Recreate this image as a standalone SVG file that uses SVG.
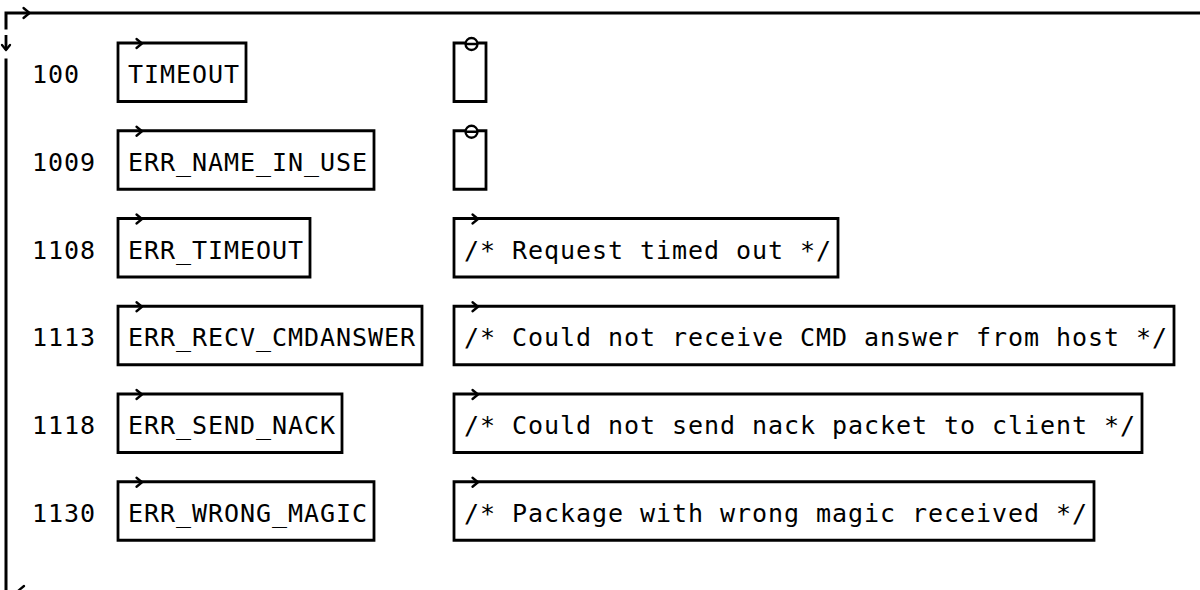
<svg xmlns="http://www.w3.org/2000/svg" width="1200" height="590" viewBox="0 0 1200 590">
<style>
  .ln { fill: none; stroke: #000; stroke-width: 2.8; stroke-linejoin: miter; stroke-linecap: butt; }
  .frame { fill: none; stroke: #000; stroke-width: 3; }
  .ah { fill: none; stroke: #000; stroke-width: 2.3; stroke-linecap: round; stroke-linejoin: round; }
  .t { font-family: "DejaVu Sans Mono", "Liberation Mono", monospace; font-size: 25px; letter-spacing: 0.95px; fill: #000; }
</style>
<rect width="1200" height="590" fill="#fff"/>
<g id="connectors">
  <path class="frame" d="M6,29.5 V13 H1200"/>
  <path class="ah" d="M23.5,8 L29.5,13 L23.5,18"/>
  <path class="ln" d="M6,35 V50"/>
  <path class="ah" d="M2,45 L6,50 L10,45"/>
  <path class="frame" d="M6,58.5 V590"/>
  <path class="ah" d="M24,586 L18,591"/>
</g>
<g id="node-100" transform="translate(0,0)">
  <text class="t" x="32" y="83">100</text>
  <path class="ln" d="M118,101.5 V43 H246 V101.5 Z"/>
  <path class="ah" d="M136.5,39 L142,43.5 L136.5,48"/>
  <text class="t" x="128" y="83">TIMEOUT</text>
  <path class="ln" d="M454,101.5 V43 H486 V101.5 Z"/>
  <circle cx="471.5" cy="44" r="6" fill="#fff" stroke="#000" stroke-width="2.3"/>
  <path class="ah" d="M466,44 H477"/>
</g>
<g id="node-1009" transform="translate(0,87.75)">
  <text class="t" x="32" y="83">1009</text>
  <path class="ln" d="M118,101.5 V43 H374 V101.5 Z"/>
  <path class="ah" d="M136.5,39 L142,43.5 L136.5,48"/>
  <text class="t" x="128" y="83">ERR_NAME_IN_USE</text>
  <path class="ln" d="M454,101.5 V43 H486 V101.5 Z"/>
  <circle cx="471.5" cy="44" r="6" fill="#fff" stroke="#000" stroke-width="2.3"/>
  <path class="ah" d="M466,44 H477"/>
</g>
<g id="node-1108" transform="translate(0,175.5)">
  <text class="t" x="32" y="83">1108</text>
  <path class="ln" d="M118,101.5 V43 H310 V101.5 Z"/>
  <path class="ah" d="M136.5,39 L142,43.5 L136.5,48"/>
  <text class="t" x="128" y="83">ERR_TIMEOUT</text>
  <path class="ln" d="M454,101.5 V43 H838 V101.5 Z"/>
  <path class="ah" d="M472.5,39 L478,43.5 L472.5,48"/>
  <text class="t" x="464" y="83" xml:space="preserve">/* Request timed out */</text>
</g>
<g id="node-1113" transform="translate(0,263.25)">
  <text class="t" x="32" y="83">1113</text>
  <path class="ln" d="M118,101.5 V43 H422 V101.5 Z"/>
  <path class="ah" d="M136.5,39 L142,43.5 L136.5,48"/>
  <text class="t" x="128" y="83">ERR_RECV_CMDANSWER</text>
  <path class="ln" d="M454,101.5 V43 H1174 V101.5 Z"/>
  <path class="ah" d="M472.5,39 L478,43.5 L472.5,48"/>
  <text class="t" x="464" y="83" xml:space="preserve">/* Could not receive CMD answer from host */</text>
</g>
<g id="node-1118" transform="translate(0,351)">
  <text class="t" x="32" y="83">1118</text>
  <path class="ln" d="M118,101.5 V43 H342 V101.5 Z"/>
  <path class="ah" d="M136.5,39 L142,43.5 L136.5,48"/>
  <text class="t" x="128" y="83">ERR_SEND_NACK</text>
  <path class="ln" d="M454,101.5 V43 H1142 V101.5 Z"/>
  <path class="ah" d="M472.5,39 L478,43.5 L472.5,48"/>
  <text class="t" x="464" y="83" xml:space="preserve">/* Could not send nack packet to client */</text>
</g>
<g id="node-1130" transform="translate(0,438.75)">
  <text class="t" x="32" y="83">1130</text>
  <path class="ln" d="M118,101.5 V43 H374 V101.5 Z"/>
  <path class="ah" d="M136.5,39 L142,43.5 L136.5,48"/>
  <text class="t" x="128" y="83">ERR_WRONG_MAGIC</text>
  <path class="ln" d="M454,101.5 V43 H1094 V101.5 Z"/>
  <path class="ah" d="M472.5,39 L478,43.5 L472.5,48"/>
  <text class="t" x="464" y="83" xml:space="preserve">/* Package with wrong magic received */</text>
</g>
</svg>
